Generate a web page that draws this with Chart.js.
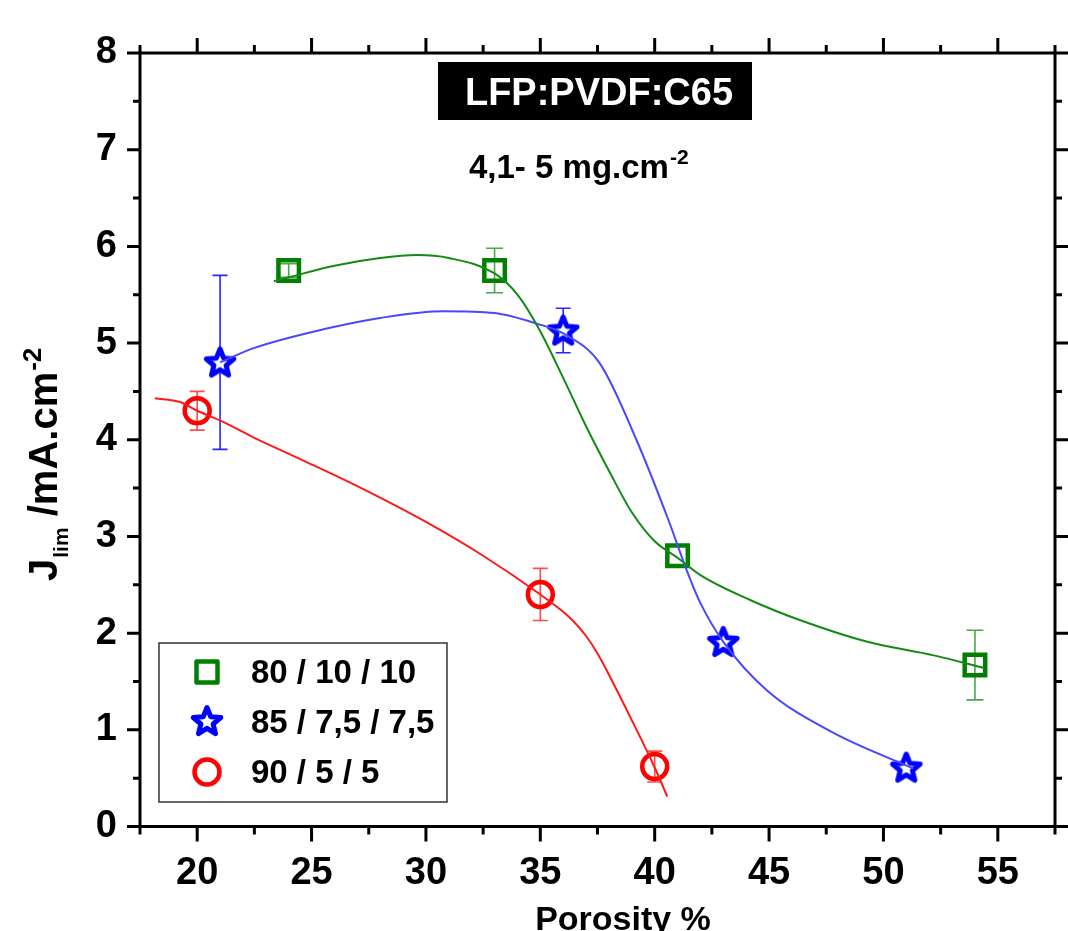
<!DOCTYPE html>
<html><head><meta charset="utf-8">
<script src="https://cdn.jsdelivr.net/npm/chart.js@4/dist/chart.umd.min.js"></script>
<style>html,body{margin:0;padding:0;background:#fff;} #c{display:block;}</style>
</head><body>
<canvas id="c" width="1068" height="931"></canvas>
<script>
const FONT = '"Liberation Sans", Arial, Helvetica, sans-serif';

// ---- data ----
const seriesLabels = ['80 / 10 / 10', '85 / 7,5 / 7,5', '90 / 5 / 5'];
const porosity80 = [24, 33, 41, 54];
const jlim80 = [5.75, 5.75, 2.80, 1.67];
const err80 = [0.07, 0.23, 0, 0.36];
const porosity85 = [21, 36, 43, 51];
const jlim85 = [4.80, 5.13, 1.91, 0.61];
const err85 = [0.90, 0.23, 0, 0];
const porosity90 = [20, 35, 40];
const jlim90 = [4.30, 2.40, 0.62];
const err90 = [0.20, 0.27, 0.16];

// fitted curves
const fit80X = [23.35, 24, 26, 28, 29.6, 31, 33, 34, 35, 36, 37, 38, 39, 40, 41, 42, 44.2, 46.4, 49.3, 52.2, 54.4];
const fit80Y = [5.64, 5.68, 5.80, 5.88, 5.91, 5.88, 5.72, 5.50, 5.12, 4.64, 4.14, 3.68, 3.25, 2.95, 2.78, 2.60, 2.34, 2.13, 1.91, 1.77, 1.64];
const fit85X = [21, 22.5, 25.66, 28, 30.77, 33, 34.85, 36, 37.6, 39.2, 40.6, 41.4, 42, 43, 44.9, 47.8, 51.3];
const fit85Y = [4.80, 4.95, 5.15, 5.26, 5.33, 5.31, 5.20, 5.10, 4.79, 4.00, 3.17, 2.65, 2.31, 1.91, 1.41, 0.97, 0.60];
const fit90X = [18.15, 19.25, 20, 21, 22.5, 24.6, 27, 30, 32.5, 35, 36, 36.5, 37, 37.5, 38, 39, 40, 40.55];
const fit90Y = [4.43, 4.39, 4.30, 4.20, 4.02, 3.79, 3.52, 3.15, 2.80, 2.40, 2.22, 2.11, 1.97, 1.79, 1.57, 1.10, 0.61, 0.31];

const xTickLabels = [20, 25, 30, 35, 40, 45, 50, 55];
const xMinorTicks = [17.5, 22.5, 27.5, 32.5, 37.5, 42.5, 47.5, 52.5, 57.5];
const yTickLabels = [0, 1, 2, 3, 4, 5, 6, 7, 8];
const yMinorTicks = [0.5, 1.5, 2.5, 3.5, 4.5, 5.5, 6.5, 7.5];

const GREEN = '#007f00', BLUE = '#0000ff', RED = '#ff0000';

function zip(xs, ys) { return xs.map((v, i) => ({x: v, y: ys[i]})); }

function starPath(ctx, cx, cy, R, r) {
  ctx.beginPath();
  for (let i = 0; i < 10; i++) {
    const a = -Math.PI / 2 + i * Math.PI / 5;
    const rad = i % 2 === 0 ? R : r;
    const px = cx + rad * Math.cos(a), py = cy + rad * Math.sin(a);
    if (i === 0) ctx.moveTo(px, py); else ctx.lineTo(px, py);
  }
  ctx.closePath();
}
function makeStar(color) {
  const c = document.createElement('canvas');
  c.width = 40; c.height = 40;
  const g = c.getContext('2d');
  starPath(g, 20, 21, 14.5, 6.4);
  g.fillStyle = '#fff'; g.fill();
  g.lineWidth = 5; g.lineJoin = 'round'; g.strokeStyle = color; g.stroke();
  return c;
}
const starImg = makeStar(BLUE);

const errorSets = [
  {xs: porosity80, ys: jlim80, err: err80, color: 'rgba(0,128,0,0.7)', cap: 8.5},
  {xs: porosity85, ys: jlim85, err: err85, color: 'rgba(0,0,255,0.85)', cap: 7.5},
  {xs: porosity90, ys: jlim90, err: err90, color: 'rgba(255,0,0,0.7)', cap: 7.5}
];

function drawLegendMarker(ctx, kind, cx, cy) {
  ctx.save();
  ctx.lineWidth = 4.5;
  if (kind === 0) {
    ctx.strokeStyle = GREEN; ctx.lineJoin = 'round';
    ctx.strokeRect(cx - 10.5, cy - 10.5, 21, 21);
  } else if (kind === 1) {
    ctx.drawImage(starImg, cx - 20, cy - 21);
  } else {
    ctx.strokeStyle = RED;
    ctx.beginPath(); ctx.arc(cx, cy, 12.5, 0, Math.PI * 2); ctx.stroke();
  }
  ctx.restore();
}

const decor = {
  id: 'decor',
  beforeDatasetsDraw(chart) {
    const {ctx, scales: {x, y}} = chart;
    errorSets.forEach(s => {
      ctx.save(); ctx.strokeStyle = s.color; ctx.lineWidth = 1.6;
      s.xs.forEach((xv, i) => {
        const e = s.err[i]; if (!e) return;
        const px = x.getPixelForValue(xv);
        const top = y.getPixelForValue(s.ys[i] + e), bot = y.getPixelForValue(s.ys[i] - e);
        ctx.beginPath();
        ctx.moveTo(px, top); ctx.lineTo(px, bot);
        ctx.moveTo(px - s.cap, top); ctx.lineTo(px + s.cap, top);
        ctx.moveTo(px - s.cap, bot); ctx.lineTo(px + s.cap, bot);
        ctx.stroke();
      });
      ctx.restore();
    });
  },
  afterDraw(chart) {
    const {ctx, chartArea: a, scales: {x, y}} = chart;
    ctx.save();
    // frame
    ctx.strokeStyle = '#000'; ctx.lineWidth = 3;
    ctx.strokeRect(a.left, a.top, a.right - a.left, a.bottom - a.top);
    // ticks on all four sides (outward)
    ctx.lineWidth = 3;
    ctx.beginPath();
    const xt = (v, len) => {
      const px = x.getPixelForValue(v);
      ctx.moveTo(px, a.bottom); ctx.lineTo(px, a.bottom + len);
      ctx.moveTo(px, a.top); ctx.lineTo(px, a.top - len);
    };
    const yt = (v, len) => {
      const py = y.getPixelForValue(v);
      ctx.moveTo(a.left, py); ctx.lineTo(a.left - len, py);
      ctx.moveTo(a.right, py); ctx.lineTo(a.right + len, py);
    };
    xTickLabels.forEach(v => xt(v, 15));
    xMinorTicks.forEach(v => xt(v, 8));
    yTickLabels.forEach(v => yt(v, 13));
    yMinorTicks.forEach(v => yt(v, 7));
    ctx.stroke();

    // title box
    ctx.fillStyle = '#000';
    ctx.fillRect(438, 62, 314, 58);
    ctx.fillStyle = '#fff';
    ctx.font = 'bold 38px ' + FONT;
    ctx.textAlign = 'center'; ctx.textBaseline = 'alphabetic';
    ctx.fillText('LFP:PVDF:C65', 599, 105);

    // subtitle with superscript
    ctx.fillStyle = '#000';
    ctx.textAlign = 'left';
    ctx.font = 'bold 33px ' + FONT;
    const sub = '4,1- 5 mg.cm';
    ctx.fillText(sub, 469, 178);
    const sw = ctx.measureText(sub).width;
    ctx.font = 'bold 21px ' + FONT;
    ctx.fillText('-2', 469 + sw + 1, 164);

    // x axis title
    ctx.font = 'bold 34px ' + FONT;
    ctx.textAlign = 'center';
    ctx.fillText('Porosity %', 623, 930);

    // y axis title (rotated)
    ctx.save();
    ctx.translate(57, 581);
    ctx.rotate(-Math.PI / 2);
    ctx.textAlign = 'left';
    let cx = 0;
    ctx.font = 'bold 40px ' + FONT;
    ctx.fillText('J', cx, 0); cx += ctx.measureText('J').width + 1;
    ctx.font = 'bold 21px ' + FONT;
    ctx.fillText('lim', cx, 11); cx += ctx.measureText('lim').width;
    ctx.font = 'bold 40px ' + FONT;
    const unit = ' /mA.cm';
    ctx.fillText(unit, cx, 0); cx += ctx.measureText(unit).width + 1;
    ctx.font = 'bold 26px ' + FONT;
    ctx.fillText('-2', cx, -16);
    ctx.restore();

    // legend
    ctx.lineWidth = 1.5; ctx.strokeStyle = '#333';
    ctx.strokeRect(159, 643, 288, 159);
    const rowsY = [672, 722, 772];
    ctx.font = 'bold 33px ' + FONT;
    ctx.textAlign = 'left'; ctx.textBaseline = 'middle';
    seriesLabels.forEach((lab, i) => {
      drawLegendMarker(ctx, i, 207, rowsY[i]);
      ctx.fillStyle = '#000';
      ctx.fillText(lab, 251, rowsY[i] + 2);
    });
    ctx.restore();
  }
};

const fitBase = {showLine: true, pointRadius: 0, pointHoverRadius: 0, borderWidth: 2, cubicInterpolationMode: 'monotone', fill: false, order: 1};
const ptBase = {showLine: false, order: 2, pointBorderWidth: 4.5, pointBackgroundColor: 'rgba(0,0,0,0)', pointHoverRadius: 14};

new Chart(document.getElementById('c'), {
  type: 'scatter',
  data: {
    datasets: [
      Object.assign({label: 'fit ' + seriesLabels[0], data: zip(fit80X, fit80Y), borderColor: '#138a13'}, fitBase),
      Object.assign({label: 'fit ' + seriesLabels[1], data: zip(fit85X, fit85Y), borderColor: '#4848ff'}, fitBase),
      Object.assign({label: 'fit ' + seriesLabels[2], data: zip(fit90X, fit90Y), borderColor: '#ff1a1a'}, fitBase),
      Object.assign({label: seriesLabels[0], data: zip(porosity80, jlim80), pointStyle: 'rect', pointRadius: 14.5, borderColor: GREEN, pointBorderColor: GREEN}, ptBase),
      Object.assign({label: seriesLabels[1], data: zip(porosity85, jlim85), pointStyle: starImg, pointRadius: 16, borderColor: BLUE}, ptBase),
      Object.assign({label: seriesLabels[2], data: zip(porosity90, jlim90), pointStyle: 'circle', pointRadius: 12.5, borderColor: RED, pointBorderColor: RED}, ptBase)
    ]
  },
  options: {
    responsive: false,
    animation: false,
    events: [],
    layout: {autoPadding: false, padding: {top: 53, right: 13, left: 0, bottom: 0}},
    plugins: {legend: {display: false}, tooltip: {enabled: false}, title: {display: false}},
    scales: {
      x: {
        type: 'linear', min: 17.5, max: 57.5,
        afterBuildTicks: s => { s.ticks = xTickLabels.map(v => ({value: v})); },
        afterFit: s => { s.height = 104.5; s.paddingLeft = 0; s.paddingRight = 0; },
        grid: {display: false, drawTicks: false},
        border: {display: false},
        ticks: {color: '#000', font: {family: FONT, size: 38, weight: 'bold'}, padding: 24, maxRotation: 0, autoSkip: false}
      },
      y: {
        type: 'linear', min: 0, max: 8,
        afterBuildTicks: s => { s.ticks = yTickLabels.map(v => ({value: v})); },
        afterFit: s => { s.width = 140; s.paddingTop = 0; s.paddingBottom = 0; },
        grid: {display: false, drawTicks: false},
        border: {display: false},
        ticks: {color: '#000', font: {family: FONT, size: 38, weight: 'bold'}, padding: 23, autoSkip: false}
      }
    }
  },
  plugins: [decor]
});
</script>
</body></html>
